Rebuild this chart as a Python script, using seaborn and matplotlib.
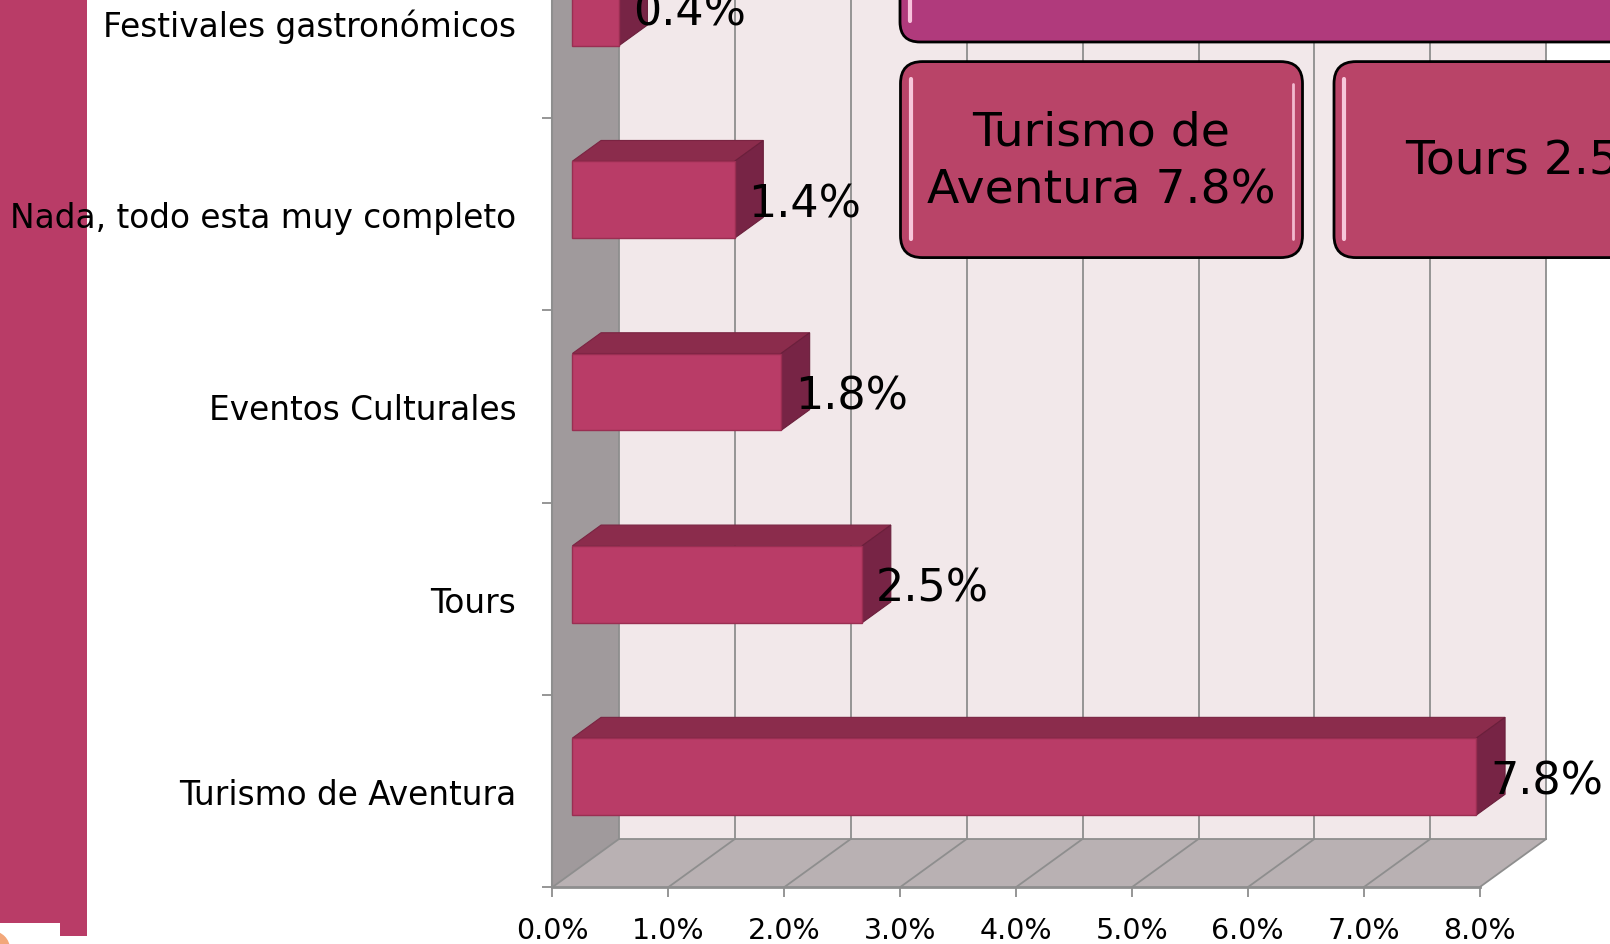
import matplotlib
matplotlib.use("Agg")
import matplotlib.pyplot as plt
import matplotlib.transforms as mtransforms
import seaborn as sns
from matplotlib.patches import Polygon, Rectangle, FancyBboxPatch, Circle

# ===========================
# DATA
# ===========================
categories = ["Festivales gastronómicos", "Nada, todo esta muy completo",
              "Eventos Culturales", "Tours", "Turismo de Aventura"]
values = [0.4, 1.4, 1.8, 2.5, 7.8]
x_ticks = [0, 1, 2, 3, 4, 5, 6, 7, 8]
x_ticklabels = [f"{t:.1f}%" for t in x_ticks]
callouts = ["Turismo de Aventura", "Tours"]

# ===========================
# STYLE
# ===========================
W, H, DPI = 1610, 945, 100
BAR_FRONT = "#b93c67"
BAR_TOP = "#8b2c4c"
BAR_SIDE = "#772445"
BACK_WALL = "#f2e8ea"
SIDE_WALL = "#a09a9c"
FLOOR = "#b9b1b3"
GRID = "#8e8e8e"
BOX_FILL = "#b94468"
TOP_BOX = "#b03a7c"

# depth of the fake 3D frame, in data units
DX, DY = 0.575, 0.251
D0, D1 = 0.3, 0.73  # depth range of the bars

sns.set_theme(style="white")
plt.rcParams["font.family"] = ["DejaVu Sans"]
plt.rcParams["text.color"] = "black"
plt.rcParams["xtick.labelcolor"] = "black"
plt.rcParams["ytick.labelcolor"] = "black"

fig = plt.figure(figsize=(W / DPI, H / DPI), dpi=DPI)
fig.patch.set_facecolor("white")

# axes geometry (front plane 0% at x=552, 8% at x=1480, floor at y=888)
x0_px, unit_x = 552.4, 115.9
floor_px, unit_y = 888.2, 192.3
xmax = (W - x0_px) / unit_x
ytop = 4.5 - floor_px / unit_y
ax = fig.add_axes([x0_px / W, (H - floor_px) / H, 1 - x0_px / W, floor_px / H])
ax.set_facecolor("none")

sns.barplot(x=values, y=categories, orient="h", width=0.4, color=BAR_FRONT,
            saturation=1, ax=ax, zorder=3, edgecolor="#9a2e52", linewidth=1)
bars = list(ax.patches)

n = len(categories)

# axes / ticks (set before the limits: set_yticks may widen the view)
for s in ["top", "right"]:
    ax.spines[s].set_visible(False)
ax.spines["bottom"].set_bounds(0, x_ticks[-1])
ax.spines["bottom"].set_color(GRID)
ax.spines["bottom"].set_linewidth(2)
ax.spines["left"].set_color(GRID)
ax.spines["left"].set_linewidth(1.5)
ax.set_xticks(x_ticks)
ax.set_xticklabels(x_ticklabels)
ax.tick_params(axis="x", length=7.5, width=1.3, color=GRID, pad=13, labelsize=20.5,
               bottom=True, labelcolor="black")
ax.set_yticks(range(n))
ax.set_yticklabels(categories)
ax.tick_params(axis="y", length=0, pad=26, labelsize=23.6, left=True, labelcolor="black")
ax.set_yticks([i + 0.5 for i in range(-1, n)], minor=True)
ax.tick_params(axis="y", which="minor", length=7.5, width=1.3, color=GRID, left=True)
ax.set_xlabel("")
ax.set_ylabel("")
ax.grid(False)

ax.set_xlim(0, xmax)
ax.set_ylim(4.5, ytop)
ax.set_autoscale_on(False)


def P(x, y, d):
    return (x + d * DX, y - d * DY)


top_y, bot_y = -0.5, n - 0.5
xm = x_ticks[-1]

# walls
ax.add_patch(Polygon([P(0, bot_y, 1), P(xm, bot_y, 1), P(xm, top_y - 1, 1), P(0, top_y - 1, 1)],
                     closed=True, facecolor=BACK_WALL, edgecolor="none", zorder=0.5))
ax.add_patch(Polygon([P(0, bot_y, 0), P(0, top_y - 1, 0), P(0, top_y - 1, 1), P(0, bot_y, 1)],
                     closed=True, facecolor=SIDE_WALL, edgecolor="none", zorder=0.6))
ax.add_patch(Polygon([P(0, bot_y, 0), P(xm, bot_y, 0), P(xm, bot_y, 1), P(0, bot_y, 1)],
                     closed=True, facecolor=FLOOR, edgecolor="none", zorder=0.6))
for t in x_ticks:
    if t > 0:
        bx, by = P(t, bot_y, 1)
        ax.plot([bx, bx], [by, top_y - 1], color=GRID, lw=1.3, zorder=0.7)
    fx, fy = P(t, bot_y, 0)
    bx, by = P(t, bot_y, 1)
    ax.plot([fx, bx], [fy, by], color=GRID, lw=1.3, zorder=0.7)
bx, by = P(0, bot_y, 1)
ax.plot([bx, P(xm, bot_y, 1)[0]], [by, by], color=GRID, lw=1.3, zorder=0.7)
ax.plot([bx, bx], [by, top_y - 1], color=GRID, lw=1.3, zorder=0.7)

# 3D bars: shift front face back, add top and side faces
for bar, v in zip(bars, values):
    y0 = bar.get_y()
    h = bar.get_height()
    x0 = bar.get_x()
    bar.set_x(x0 + D0 * DX)
    bar.set_y(y0 - D0 * DY)
    xe = x0 + bar.get_width()
    ax.add_patch(Polygon([P(x0, y0, D0), P(xe, y0, D0), P(xe, y0, D1), P(x0, y0, D1)],
                         closed=True, facecolor=BAR_TOP, edgecolor="#7a2442", lw=0.8, zorder=2.9))
    ax.add_patch(Polygon([P(xe, y0, D0), P(xe, y0, D1), P(xe, y0 + h, D1), P(xe, y0 + h, D0)],
                         closed=True, facecolor=BAR_SIDE, edgecolor="#6a1f3b", lw=0.8, zorder=2.9))
    ax.annotate(f"{v:.1f}%", xy=P(xe, y0 + h / 2, D0), xytext=(10, -3),
                textcoords="offset points", ha="left", va="center",
                fontsize=32, color="black", zorder=5, annotation_clip=False)

# ===========================
# DECORATION (figure pixels, origin top-left)
# ===========================
pix = mtransforms.Affine2D().scale(1 / W, -1 / H).translate(0, 1) + fig.transFigure

fig.add_artist(Rectangle((0, 0), 87, 937, transform=pix, facecolor=BAR_FRONT,
                         edgecolor="none", zorder=-1))
fig.add_artist(Rectangle((0, 924), 60, 30, transform=pix, facecolor="white",
                         edgecolor="none", zorder=-0.9))
fig.add_artist(Circle((-8, 950), 18, transform=pix, facecolor="#f2a77a",
                      edgecolor="none", zorder=-0.8))

fig.add_artist(FancyBboxPatch((900, -120), 900, 163, boxstyle="round,pad=0,rounding_size=20",
                              transform=pix, facecolor=TOP_BOX, edgecolor="black", lw=2, zorder=10))
fig.add_artist(plt.Line2D([910, 910], [0, 22], transform=pix, color="#f7c2dc", lw=3, zorder=11))

box_x = [900.5, 1334]
for bx0, name in zip(box_x, callouts):
    v = values[categories.index(name)]
    label = name.replace("de ", "de\n") + f" {v:.1f}%"
    fig.add_artist(FancyBboxPatch((bx0, 62.6), 402, 196, boxstyle="round,pad=0,rounding_size=22",
                                  transform=pix, facecolor=BOX_FILL, edgecolor="black", lw=2, zorder=10))
    fig.add_artist(plt.Line2D([bx0 + 10, bx0 + 10], [80, 240], transform=pix, color="#f7c6da",
                              lw=3, zorder=11))
    fig.add_artist(plt.Line2D([bx0 + 392, bx0 + 392], [85, 240], transform=pix, color="#f2b9cf",
                              lw=2, zorder=11))
    fig.text((bx0 + 201) / W, 1 - 162 / H, label, ha="center", va="center", fontsize=34,
             color="black", linespacing=1.35, zorder=12)

fig.savefig("out.png", dpi=DPI)
